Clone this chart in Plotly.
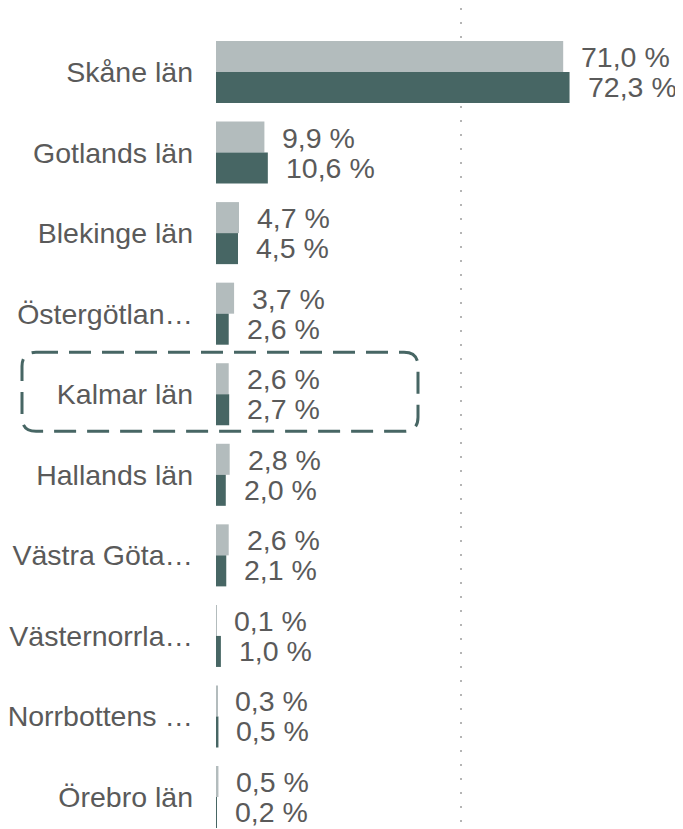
import plotly.graph_objects as go

categories = ["Skåne län", "Gotlands län", "Blekinge län", "Östergötlan…", "Kalmar län",
              "Hallands län", "Västra Göta…", "Västernorrla…", "Norrbottens …", "Örebro län"]
series_a = [71.0, 9.9, 4.7, 3.7, 2.6, 2.8, 2.6, 0.1, 0.3, 0.5]   # light grey (top)
series_b = [72.3, 10.6, 4.5, 2.6, 2.7, 2.0, 2.1, 1.0, 0.5, 0.2]  # dark teal (bottom)
highlight = "Kalmar län"

GREY = "#b3bcbd"
DARK = "#476664"
TEXT = "#5a5a5a"
FONT = "Liberation Sans, Arial, sans-serif"
FS = 28.5

OFF = 8  # page body margin
W, H = 683 - OFF, 829 - OFF
MT, MB, ML, MR = 0, 0, 216 - OFF, 0
ROW = 80.56
FIRST = 72 - OFF  # pixel centre of first row in figure coords
ytop = -(FIRST - MT) / ROW
ybot = (len(categories) - 1) + (H - MB - (FIRST + ROW * (len(categories) - 1))) / ROW
XMAX = (W - ML - MR) / 4.89

fmt = lambda v: f"{v:.1f}".replace(".", ",") + " %"

fig = go.Figure()
fig.add_trace(go.Bar(y=categories, x=series_a, orientation="h", marker_color=GREY,
                     marker_line_width=0, name="A"))
fig.add_trace(go.Bar(y=categories, x=series_b, orientation="h", marker_color=DARK,
                     marker_line_width=0, name="B"))

ann = []
for c, a, b in zip(categories, series_a, series_b):
    ann.append(dict(x=a, y=c, text=fmt(a), showarrow=False, xanchor="left", yanchor="middle",
                    xshift=16, yshift=15, font=dict(family=FONT, size=FS, color=TEXT)))
    ann.append(dict(x=b, y=c, text=fmt(b), showarrow=False, xanchor="left", yanchor="middle",
                    xshift=16, yshift=-15, font=dict(family=FONT, size=FS, color=TEXT)))

# highlight box around the selected category (paper coordinates derived from its index)
idx = categories.index(highlight)
plot_h = H - MT - MB
plot_w = W - ML - MR
def y_to_paper(v):
    return (ybot - v) / (ybot - ytop)
def px_to_xpaper(px):
    return (px - OFF - ML) / plot_w
y0 = y_to_paper(idx + 0.46)
y1 = y_to_paper(idx - 0.52)
x0 = px_to_xpaper(22)
x1 = px_to_xpaper(418)
rx = 14 / plot_w
ry = 14 / plot_h
path = (f"M {x0+rx},{y1} L {x1-rx},{y1} Q {x1},{y1} {x1},{y1-ry} "
        f"L {x1},{y0+ry} Q {x1},{y0} {x1-rx},{y0} L {x0+rx},{y0} "
        f"Q {x0},{y0} {x0},{y0+ry} L {x0},{y1-ry} Q {x0},{y1} {x0+rx},{y1} Z")

fig.update_layout(
    width=W, height=H,
    margin=dict(l=ML, r=MR, t=MT, b=MB, pad=0),
    paper_bgcolor="white", plot_bgcolor="white",
    barmode="group", bargap=0.23, bargroupgap=0,
    showlegend=False,
    font=dict(family=FONT, size=FS, color=TEXT),
    xaxis=dict(range=[0, XMAX], showticklabels=False, showgrid=True, dtick=50, tick0=0,
               gridcolor="#b5b5b5", griddash="1.5px,12.5px", gridwidth=1.5,
               zeroline=False, showline=False, ticks=""),
    yaxis=dict(range=[ybot, ytop], type="category", showgrid=False, zeroline=False,
               showline=False, ticks="", ticklabelstandoff=22,
               tickfont=dict(family=FONT, size=FS, color=TEXT)),
    annotations=ann,
    shapes=[dict(type="path", path=path, xref="paper", yref="paper",
                 line=dict(color=DARK, width=3, dash="22px,11px"),
                 fillcolor="rgba(0,0,0,0)", layer="above")],
)

fig.write_html("out.html")
